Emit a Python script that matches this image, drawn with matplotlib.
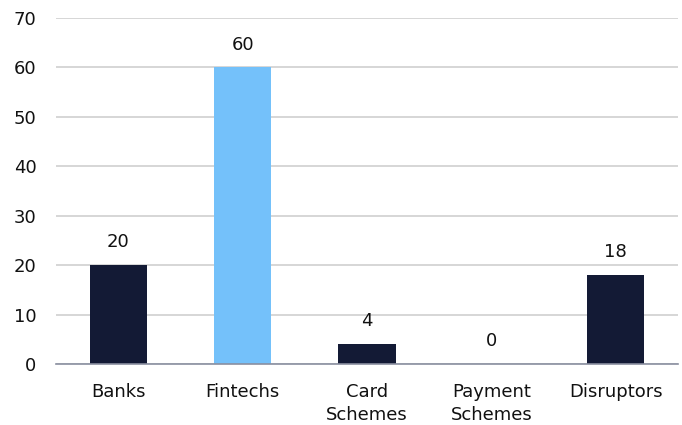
import matplotlib.pyplot as plt

categories = ['Banks', 'Fintechs', 'Card\nSchemes', 'Payment\nSchemes', 'Disruptors']
values = [20, 60, 4, 0, 18]
highlight = 'Fintechs'

plt.rcParams['font.family'] = ['DejaVu Sans']

fig = plt.figure(figsize=(6.82, 4.25), dpi=100)
ax = fig.add_axes([56 / 682, 1 - 364 / 425, 622 / 682, 346 / 425])

colors = ['#74C1FA' if c == highlight else '#131A35' for c in categories]
x = range(len(categories))
bars = ax.bar(x, values, width=0.46, color=colors, zorder=2)

fs = 13
for b, v in zip(bars, values):
    ax.text(b.get_x() + b.get_width() / 2, v + 2.8, str(v),
            ha='center', va='bottom', fontsize=fs, color='#111111')

ax.set_ylim(0, 70)
ax.set_xlim(-0.5, len(categories) - 0.5)
ax.set_yticks(range(0, 71, 10))
ax.set_xticks(list(x))
ax.set_xticklabels(categories, fontsize=fs, color='#111111', linespacing=1.3)
ax.tick_params(axis='y', labelsize=fs, labelcolor='#111111', length=0, pad=14)
ax.tick_params(axis='x', length=0, pad=14)

ax.grid(axis='y', color='#D6D6D6', linewidth=1.4, zorder=0)
for s in ['top', 'right', 'left']:
    ax.spines[s].set_visible(False)
ax.spines['bottom'].set_color('#8A8FA0')
ax.spines['bottom'].set_linewidth(1.2)
ax.spines['bottom'].set_zorder(3)

fig.savefig('out.png', dpi=100)
